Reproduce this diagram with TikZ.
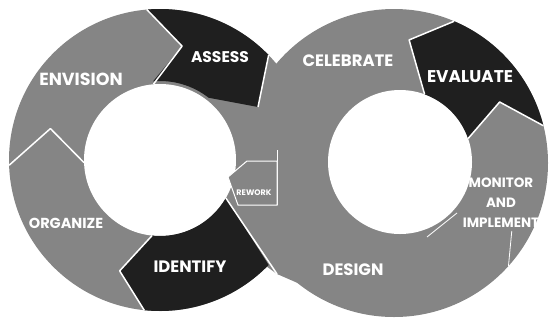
\documentclass[tikz,border=0pt]{standalone}
\usepackage{fontspec}
\setmainfont{Poppins}
\usetikzlibrary{calc}

\definecolor{ringgray}{gray}{0.52}
\definecolor{ringdark}{gray}{0.12}

\tikzset{
  steptext/.style={text=white,font=\bfseries\fontsize{16.5}{16.5}\selectfont,inner sep=0pt},
  smalltext/.style={text=white,font=\bfseries\fontsize{8}{8}\selectfont,inner sep=0pt},
  gapline/.style={draw=white,line width=1.5pt,line join=round},
}

\begin{document}
\begin{tikzpicture}[x=1pt,y=-1pt]
\useasboundingbox (0,0) rectangle (551,322);

\coordinate (L) at (160,160);
\coordinate (R) at (394,163);
\coordinate (Rh) at (400,162);

% the two rings
\fill[ringgray] (L) circle[radius=151];
\fill[ringgray] (R) circle[radius=154];
\fill[ringgray] (266,266) -- (277,274) -- (300,284) -- (285,235) -- cycle;
\fill[white] (L) circle[radius=76];
\fill[white] (Rh) circle[radius=72];

% dark steps
\fill[ringdark] ($(L)+(265:151)$) arc[start angle=265,end angle=316,radius=151]
  -- (258,107) -- ($(L)+(308:79)$) arc[start angle=308,end angle=265,radius=79]
  -- ($(L)+(281:116)$) -- cycle;
\fill[ringdark] ($(L)+(44:151)$) arc[start angle=44,end angle=96,radius=151]
  -- ($(L)+(110:118)$) -- ($(L)+(96:76)$) arc[start angle=96,end angle=30,radius=76]
  -- cycle;
\fill[ringdark] ($(R)+(293:154)$) arc[start angle=293,end angle=346,radius=154]
  -- ($(R)+(330:122)$) -- ($(Rh)+(341:72)$) arc[start angle=341,end angle=290,radius=72]
  -- ($(R)+(277:124)$) -- cycle;

% gaps between the steps
\draw[gapline] ($(L)+(178:151)$) -- ($(L)+(196:114)$) -- ($(L)+(178:76)$);
\draw[gapline] ($(L)+(265:151)$) -- ($(L)+(281:116)$) -- ($(L)+(265:76)$);
\draw[gapline] ($(L)+(316:151)$) -- (258,107);
\draw[gapline] ($(L)+(96:151)$) -- ($(L)+(110:118)$) -- ($(L)+(96:76)$);
\draw[gapline] ($(L)+(30:76)$) -- (277,274);
\draw[gapline] ($(R)+(293:154)$) -- ($(R)+(277:124)$) -- ($(Rh)+(290:72)$);
\draw[gapline] ($(R)+(346:154)$) -- ($(R)+(330:122)$) -- ($(Rh)+(341:72)$);
\draw[gapline,line width=0.8pt] ($(R)+(42:154)$) -- ($(R)+(30:136)$);
\draw[gapline,line width=0.8pt] (457,213) -- (427,237);
\draw[gapline,line width=1pt] (277,150) -- (277,205);

% rework arrow
\filldraw[fill=ringgray,draw=white,line width=1pt] (228,177) -- (247,161) -- (277,161) -- (277,205) -- (238,205) -- cycle;

% labels
\node[steptext,font=\bfseries\fontsize{17.5}{17.5}\selectfont] (envision) at (81,79) {ENVISION};
\node[steptext,font=\bfseries\fontsize{15.5}{15.5}\selectfont] (assess) at (220,57) {ASSESS};
\node[steptext] (identify) at (190,267) {IDENTIFY};
\node[steptext,font=\bfseries\fontsize{14.5}{14.5}\selectfont] (organize) at (66,223) {ORGANIZE};
\node[smalltext] (rework) at (254,193) {REWORK};
\node[steptext] (celebrate) at (348,61) {CELEBRATE};
\node[steptext,font=\bfseries\fontsize{17}{17}\selectfont] (evaluate) at (470,77) {EVALUATE};
\node[steptext,align=center,font=\bfseries\fontsize{13.5}{20}\selectfont] (monitor) at (501,203) {MONITOR\\AND\\IMPLEMENT};
\node[steptext] (design) at (353,270) {DESIGN};
\end{tikzpicture}
\end{document}
